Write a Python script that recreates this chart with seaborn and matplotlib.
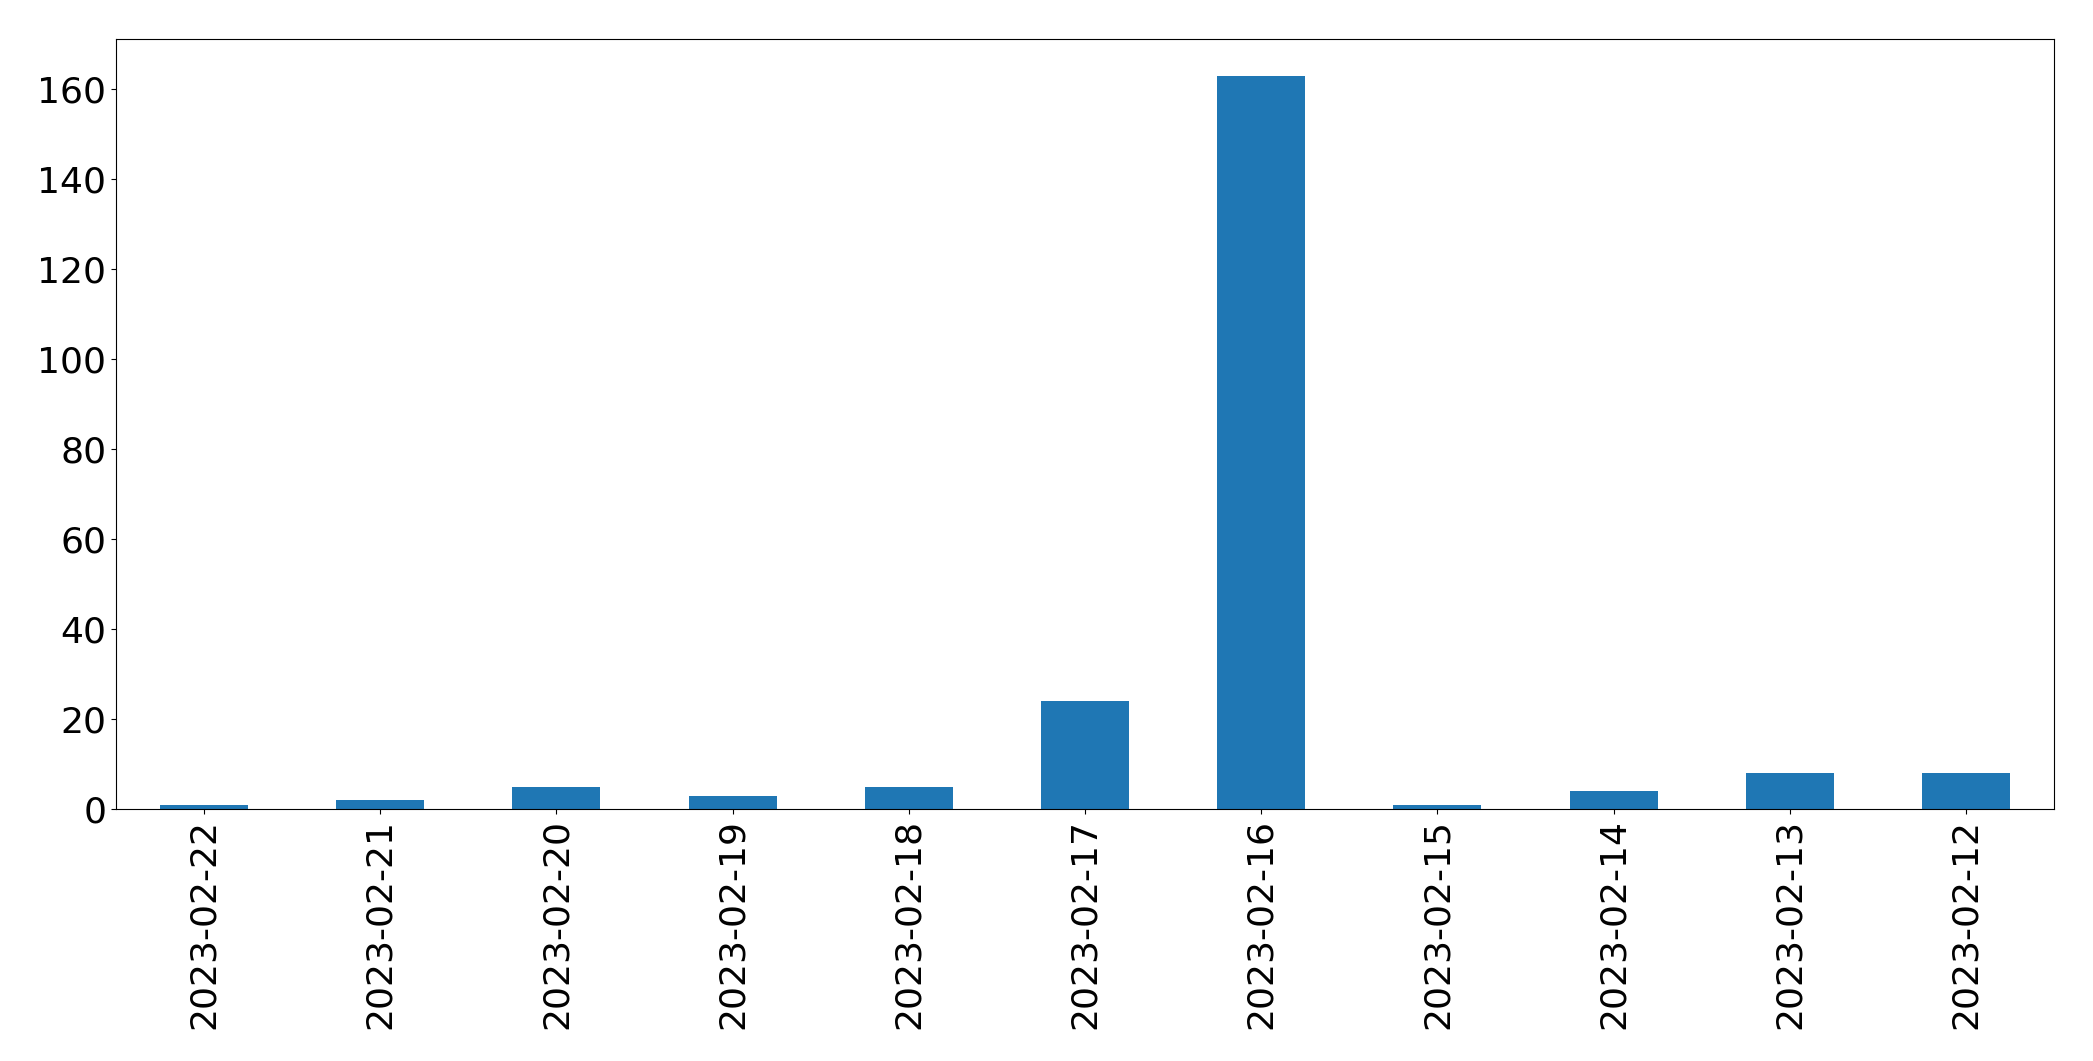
import pandas as pd
import matplotlib
matplotlib.use("Agg")
import matplotlib.pyplot as plt
import seaborn as sns

dates = ['2023-02-22', '2023-02-21', '2023-02-20', '2023-02-19', '2023-02-18',
         '2023-02-17', '2023-02-16', '2023-02-15', '2023-02-14', '2023-02-13',
         '2023-02-12']
counts = [1, 2, 5, 3, 5, 24, 163, 1, 4, 8, 8]

df = pd.DataFrame({'date': dates, 'count': counts})

fig, ax = plt.subplots(figsize=(20.93, 10.61), dpi=100)
fig.subplots_adjust(left=0.0554, right=0.9814, top=0.963, bottom=0.2375)

sns.barplot(data=df, x='date', y='count', color='#1f77b4', saturation=1,
            width=0.5, ax=ax)

ax.set_xlim(-0.5, len(dates) - 0.5)
ax.set_ylim(0, max(counts) * 1.05)
ax.set_xlabel('')
ax.set_ylabel('')
ax.tick_params(axis='both', labelsize=26)
ax.tick_params(axis='x', labelrotation=90)

plt.savefig('out.png', dpi=100)
